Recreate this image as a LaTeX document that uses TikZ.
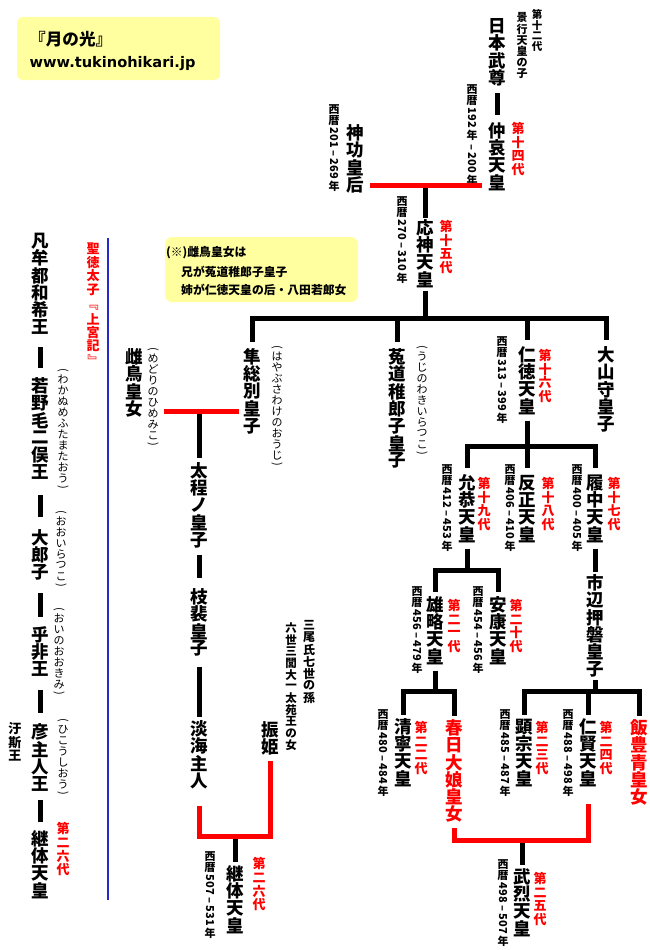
\documentclass[tikz,border=0pt]{standalone}
\usepackage{fontspec}
\usepackage{graphicx}
\setmainfont{Noto Sans CJK JP}
\newfontfamily\urlfont{DejaVu Sans}
\makeatletter
\newdimen\vtp \newdimen\vtw
\def\setvt#1#2{\vtp=#1\relax\vtw=#2\relax}
\def\R#1{\rotatebox{-90}{#1}}
\def\vtest#1#2\vtend{\ifx#1\R\let\vtdo\vtnat\else\let\vtdo\vtslot\fi}
\def\vtslot#1{\hbox to\vtw{\hss\vbox to\vtp{\vss\hbox{#1}\vss}\hss}}
\def\vtnat#1{\kern1.5pt\hbox to\vtw{\hss#1\hss}\kern1.5pt}
\newcommand\vt[1]{\vbox{\offinterlineskip\@tfor\vch:=#1\do{\expandafter\vtest\vch\vtend\vtdo{\vch}}}}
\makeatother
\newcommand\dates[2]{\vt{西暦{\R{#1}}年{\R{~–~#2}}年}}
\newcommand\datesb[2]{\vt{西暦{\R{#1~–~#2}}年}}
\newcommand\rdg[1]{\vt{{\R{(}}#1{\R{)}}}}
\newcommand\nmfont{\fontsize{17.5}{17.5}\selectfont\bfseries\setvt{17.3pt}{17.5pt}}
\newcommand\genfont{\fontsize{13}{13}\selectfont\bfseries\setvt{13.5pt}{13pt}}
\newcommand\dtfont{\fontsize{11}{11}\selectfont\bfseries\setvt{11pt}{11pt}}
\newcommand\rdfont{\fontsize{11}{11}\selectfont\setvt{11pt}{11pt}}
\definecolor{ybox}{RGB}{255,255,160}
\definecolor{bline}{RGB}{40,40,200}
\begin{document}
\begin{tikzpicture}[x=1pt,y=-1pt,
  nm/.style={inner sep=0pt, anchor=north, font=\nmfont},
  gen/.style={inner sep=0pt, anchor=north, text=red, font=\genfont},
  dt/.style={inner sep=0pt, anchor=north, font=\dtfont},
  rd/.style={inner sep=0pt, anchor=north, font=\rdfont},
  sma/.style={inner sep=0pt, anchor=north, font={\fontsize{10.5}{10.5}\selectfont\bfseries\setvt{10.75pt}{10.5pt}}},
  smb/.style={inner sep=0pt, anchor=north, font={\fontsize{11}{11}\selectfont\bfseries\setvt{11.2pt}{11pt}}},
  smc/.style={inner sep=0pt, anchor=north, font={\fontsize{12}{12}\selectfont\bfseries\setvt{12.1pt}{12pt}}},
  smd/.style={inner sep=0pt, anchor=north, font={\fontsize{11.5}{11.5}\selectfont\bfseries\setvt{11.7pt}{11.5pt}}},
  sme/.style={inner sep=0pt, anchor=north, font={\fontsize{13}{13}\selectfont\bfseries\setvt{13.3pt}{13pt}}},
  note/.style={inner sep=0pt, anchor=west, font={\fontsize{11.8}{11.8}\selectfont\bfseries}},
  bl/.style={line width=5pt, draw=black},
  hb/.style={line width=5pt, draw=black, shorten <=-2.5pt, shorten >=-2.5pt},
  rl/.style={line width=5pt, draw=red, line join=miter},
  bluel/.style={line width=1.5pt, draw=bline}]
\useasboundingbox (0,0) rectangle (650,950);
\fill[white] (0,0) rectangle (650,950);
% boxes
\fill[ybox, rounded corners=6pt] (17,17) rectangle (220,80);
\node[anchor=west, inner sep=0pt, font={\fontsize{16.6}{16.6}\selectfont\bfseries}] (title) at (29,39) {『月の光』};
\node[anchor=west, inner sep=0pt, font={\urlfont\fontsize{14.6}{14.6}\selectfont\bfseries}] (url) at (29.5,64) {www.tukinohikari.jp};
\fill[ybox, rounded corners=7pt] (165,237) rectangle (358,302);
\node[note] (n1) at (166,253) {(※)雌鳥皇女は};
\node[note] (n2) at (181,272) {兄が菟道稚郎子皇子};
\node[note] (n3) at (181,290) {姉が仁徳天皇の后・八田若郎女};
% top
\node[sma] (k12) at (537,9) {\vt{第十二代}};
\node[smb] (keiko) at (522,12) {\vt{景行天皇の子}};
\node[nm] (nihon) at (497,17) {\vt{日本武尊}};
\node[nm] (chuai) at (497,122) {\vt{仲哀天皇}};
\node[gen] (g14) at (518,122) {\vt{第十四代}};
\node[dt] (d14) at (472,84) {\dates{192}{200}};
\node[nm] (jingu) at (355,124) {\vt{神功皇后}};
\node[dt] (djingu) at (334,104) {\datesb{201}{269}};
\node[nm] (ojin) at (425.5,219) {\vt{応神天皇}};
\node[gen] (g15) at (446,220) {\vt{第十五代}};
\node[dt] (d15) at (402,196) {\datesb{270}{310}};
% Ojin children
\node[nm] (hayabusa) at (252.5,348) {\vt{隼総別皇子}};
\node[rd] (rhaya) at (277,344) {\rdg{はやぶさわけのおうじ}};
\node[nm] (uji) at (397.5,348) {\vt{菟道稚郎子皇子}};
\node[rd] (ruji) at (422,344) {\rdg{うじのわきいらつこ}};
\node[nm] (nintoku) at (527,346) {\vt{仁徳天皇}};
\node[gen] (g16) at (545,349) {\vt{第十六代}};
\node[dt] (d16) at (502,336) {\datesb{313}{399}};
\node[nm] (oyama) at (606.5,346) {\vt{大山守皇子}};
% Nintoku children
\node[nm] (ingyo) at (467,474) {\vt{允恭天皇}};
\node[gen] (g19) at (484,477) {\vt{第十九代}};
\node[dt] (d19) at (447,464) {\datesb{412}{453}};
\node[nm] (hanzei) at (527,474) {\vt{反正天皇}};
\node[gen] (g18) at (548,477) {\vt{第十八代}};
\node[dt] (d18) at (510,464) {\datesb{406}{410}};
\node[nm] (richu) at (595,474) {\vt{履中天皇}};
\node[gen] (g17) at (614,477) {\vt{第十七代}};
\node[dt] (d17) at (577,464) {\datesb{400}{405}};
% Ingyo children
\node[nm] (yuryaku) at (435.5,596) {\vt{雄略天皇}};
\node[gen] (g21) at (454,599) {\vt{第二一代}};
\node[dt] (d21) at (417,586) {\datesb{456}{479}};
\node[nm] (anko) at (498,596) {\vt{安康天皇}};
\node[gen] (g20) at (516,599) {\vt{第二十代}};
\node[dt] (d20) at (478,586) {\datesb{454}{456}};
\node[nm] (ichinobe) at (595,574) {\vt{市辺押磐皇子}};
% next generation
\node[nm] (seinei) at (403,718) {\vt{清寧天皇}};
\node[gen] (g22) at (421,721) {\vt{第二二代}};
\node[dt] (d22) at (383,709) {\datesb{480}{484}};
\node[nm, text=red] (kasuga) at (454,719) {\vt{春日大娘皇女}};
\node[nm] (kenzo) at (524.5,718) {\vt{顕宗天皇}};
\node[gen] (g23) at (542,721) {\vt{第二三代}};
\node[dt] (d23) at (505,709) {\datesb{485}{487}};
\node[nm] (ninken) at (588,718) {\vt{仁賢天皇}};
\node[gen] (g24) at (606,721) {\vt{第二四代}};
\node[dt] (d24) at (568,709) {\datesb{488}{498}};
\node[nm, text=red] (iitoyo) at (639.5,719) {\vt{飯豊青皇女}};
\node[nm] (buretsu) at (522,868) {\vt{武烈天皇}};
\node[gen] (g25) at (540,872) {\vt{第二五代}};
\node[dt] (d25) at (503,859) {\datesb{498}{507}};
% middle-left
\node[nm] (medori) at (134,348) {\vt{雌鳥皇女}};
\node[rd] (rmedori) at (153,346) {\rdg{めどりのひめみこ}};
\node[nm] (futo) at (199,462) {\vt{太程ノ皇子}};
\node[nm] (shihi) at (199,588) {\vt{枝裴皇子}};
\node[nm] (omi) at (199,720) {\vt{淡海主人}};
\node[nm] (furi) at (270.5,721) {\vt{振姫}};
\node[smc] (mio) at (309,619) {\vt{三尾氏七世の孫}};
\node[smd] (rokuse) at (291,622) {\vt{六世三閭大一太苑王の女}};
\node[nm] (keitai1) at (235,865) {\vt{継体天皇}};
\node[gen] (g26a) at (259,857) {\vt{第二六代}};
\node[dt] (d26) at (210,851) {\datesb{507}{531}};
% left column
\node[gen] (shotoku) at (93,242) {\vt{聖徳太子{\R{『}}上宮記{\R{』}}}};
\node[nm] (L1) at (40,232) {\vt{凡牟都和希王}};
\node[nm] (L2) at (40,377) {\vt{若野毛二俣王}};
\node[rd] (rL2) at (63,367) {\rdg{わかぬめふたまたおう}};
\node[nm] (L3) at (40,529) {\vt{大郎子}};
\node[rd] (rL3) at (61,509) {\rdg{おおいらつこ}};
\node[nm] (L4) at (40,626) {\vt{乎非王}};
\node[rd] (rL4) at (59,606) {\rdg{おいのおおきみ}};
\node[nm] (L5) at (40,723) {\vt{彦主人王}};
\node[rd] (rL5) at (63,717) {\rdg{ひこうしおう}};
\node[sme] (ushi) at (15,722) {\vt{汙斯王}};
\node[nm] (L6) at (40,830) {\vt{継体天皇}};
\node[gen] (g26b) at (63,822) {\vt{第二六代}};
% ---------- connectors
\draw[bl, shorten <=6.8pt, shorten >=7pt] (nihon.south) -- (chuai.north);
\coordinate (m1) at (425.5,185);
\coordinate (m1L) at (370,185);
\coordinate (m1R) at (482,185);
\draw[bl, shorten >=1pt] (m1) -- (ojin.north);
\draw[rl] (m1L) -- (m1R);
\coordinate (b1) at (425.5,318);
\draw[bl, shorten <=2pt] (ojin.south) -- (b1);
\draw[hb] (hayabusa.north |- b1) -- (oyama.north |- b1);
\foreach \n in {hayabusa,uji,nintoku,oyama} \draw[bl, shorten >=6pt] (\n.north |- b1) -- (\n.north);
\coordinate (b2) at (527,446);
\draw[bl, shorten <=5pt] (nintoku.south) -- (b2);
\draw[hb] (ingyo.north |- b2) -- (richu.north |- b2);
\foreach \n in {ingyo,hanzei,richu} \draw[bl, shorten >=6pt] (\n.north |- b2) -- (\n.north);
\coordinate (b3) at (467,570);
\draw[bl, shorten <=5pt] (ingyo.south) -- (b3);
\draw[hb] (yuryaku.north |- b3) -- (anko.north |- b3);
\foreach \n in {yuryaku,anko} \draw[bl, shorten >=4pt] (\n.north |- b3) -- (\n.north);
\draw[bl, shorten <=5pt, shorten >=2pt] (richu.south) -- (ichinobe.north);
\coordinate (b4) at (435.5,691);
\draw[bl, shorten <=5pt] (yuryaku.south) -- (b4);
\draw[hb] (seinei.north |- b4) -- (kasuga.north |- b4);
\foreach \n in {seinei,kasuga} \draw[bl, shorten >=3pt] (\n.north |- b4) -- (\n.north);
\coordinate (b5) at (595,691);
\draw[bl, shorten <=2pt] (ichinobe.south) -- (b5);
\draw[hb] (kenzo.north |- b5) -- (iitoyo.north |- b5);
\foreach \n in {kenzo,ninken,iitoyo} \draw[bl, shorten >=3pt] (\n.north |- b5) -- (\n.north);
\coordinate (m2) at (522,840);
\draw[bl, shorten >=3pt] (m2) -- (buretsu.north);
\draw[rl] ([yshift=-5pt]kasuga.south) |- (m2) -| ([yshift=-16pt]ninken.south);
% middle-left
\coordinate (m3) at (199,411);
\coordinate (m3L) at (164,411);
\coordinate (m3R) at (239,411);
\draw[bl, shorten >=4pt] (m3) -- (futo.north);
\draw[rl] (m3L) -- (m3R);
\draw[bl, shorten <=6.5pt, shorten >=10pt] (futo.south) -- (shihi.north);
\draw[bl, shorten <=9.8pt, shorten >=3pt] (shihi.south) -- (omi.north);
\coordinate (m4) at (235,836);
\draw[bl, shorten >=3pt] (m4) -- (keitai1.north);
\draw[rl] ([yshift=-16.8pt]omi.south) |- (m4) -| ([yshift=-5.4pt]furi.south);
% left column
\draw[bl, shorten <=11.2pt, shorten >=9pt] (L1.south) -- (L2.north);
\draw[bl, shorten <=14.2pt, shorten >=12pt] (L2.south) -- (L3.north);
\draw[bl, shorten <=12.1pt, shorten >=9pt] (L3.south) -- (L4.north);
\draw[bl, shorten <=12.1pt, shorten >=10pt] (L4.south) -- (L5.north);
\draw[bl, shorten <=7.8pt, shorten >=8pt] (L5.south) -- (L6.north);
\coordinate (bt) at (108,238);
\coordinate (bb) at (108,900);
\draw[bluel] (bt) -- (bb);
\end{tikzpicture}
\end{document}
